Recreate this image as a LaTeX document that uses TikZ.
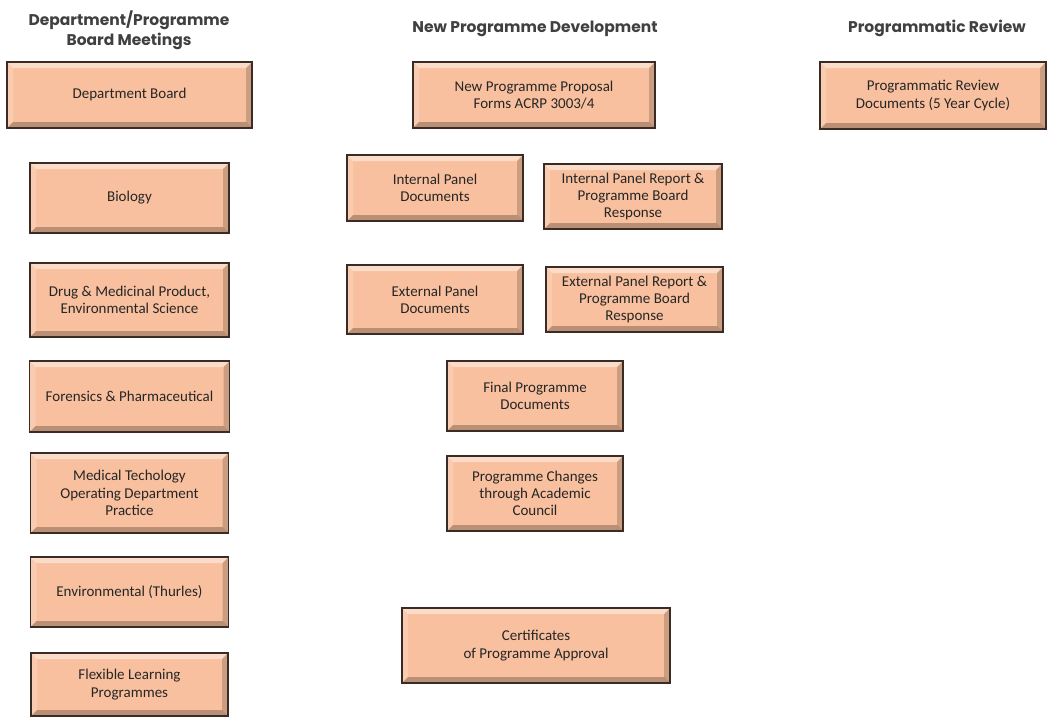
\documentclass[tikz,border=0pt]{standalone}
\usepackage{fontspec}
\setmainfont{Carlito}
\newfontfamily\headfont{Poppins}
\usepackage{tikz}
\usetikzlibrary{positioning}
\definecolor{peach}{RGB}{248,192,158}
\definecolor{boxedge}{RGB}{58,44,36}
\definecolor{headgrey}{RGB}{64,64,64}
\definecolor{inktext}{RGB}{38,38,38}
\tikzstyle{doc} = [rectangle, 
draw=boxedge, line width=1.2pt, fill=peach, 
align=center, text=inktext, 
font=\fontsize{15}{17.3}\selectfont,
path picture={
  \coordinate (bvnw) at (path picture bounding box.north west);
  \coordinate (bvne) at (path picture bounding box.north east);
  \coordinate (bvsw) at (path picture bounding box.south west);
  \coordinate (bvse) at (path picture bounding box.south east);
  \fill[white, opacity=.45] (bvnw) -- (bvne) -- ([shift={(-6pt,-6pt)}]bvne) -- ([shift={(6pt,-6pt)}]bvnw) -- cycle;
  \fill[white, opacity=.2] (bvnw) -- ([shift={(6pt,-6pt)}]bvnw) -- ([shift={(6pt,6pt)}]bvsw) -- (bvsw) -- cycle;
  \fill[black, opacity=.25] (bvsw) -- ([shift={(6pt,6pt)}]bvsw) -- ([shift={(-6pt,6pt)}]bvse) -- (bvse) -- cycle;
  \fill[black, opacity=.18] (bvne) -- (bvse) -- ([shift={(-6pt,6pt)}]bvse) -- ([shift={(-6pt,-6pt)}]bvne) -- cycle;
}]
\tikzstyle{heading} = [align=center, text=headgrey, 
font=\headfont\bfseries\fontsize{15.5}{20}\selectfont]

\begin{document}
\begin{tikzpicture}[x=1pt, y=-1pt]
            \useasboundingbox (0,0) rectangle (1048,717);
            % column headings
            \node [heading] (hdept) at (129,30) 
            {Department/Programme\\Board Meetings};
            \node [heading] (hnew) at (535,29) 
            {New Programme Development};
            \node [heading] (hrev) at (937,28) 
            {Programmatic Review};
            % department / programme boards
            \node [doc, minimum width=245pt, minimum height=66pt] (deptboard) at (129.5,95) 
            {Department Board};
            \node [doc, minimum width=199pt, minimum height=70pt, below of=deptboard, node distance=103pt] (biology) 
            {Biology};
            \node [doc, minimum width=199pt, minimum height=74pt, below of=biology, node distance=102pt] (drug) 
            {Drug \& Medicinal Product,\\ Environmental Science};
            \node [doc, minimum width=200pt, minimum height=71pt, below of=drug, node distance=96.5pt] (forensics) 
            {Forensics \& Pharmaceutical};
            \node [doc, minimum width=198pt, minimum height=80pt, below of=forensics, node distance=96.5pt] (medical) 
            {Medical Techology\\Operating Department\\Practice};
            \node [doc, minimum width=198pt, minimum height=70pt, below of=medical, node distance=99pt] (thurles) 
            {Environmental (Thurles)};
            \node [doc, minimum width=197pt, minimum height=63pt, below of=thurles, node distance=92.5pt] (flexible) 
            {Flexible Learning\\Programmes};
            % new programme development
            \node [doc, minimum width=242pt, minimum height=66pt] (proposal) at (534,95) 
            {New Programme Proposal\\Forms ACRP 3003/4};
            \node [doc, minimum width=176pt, minimum height=66pt] (intdocs) at (435,188) 
            {Internal Panel\\Documents};
            \node [doc, minimum width=178pt, minimum height=65pt, right of=intdocs, node distance=198pt, yshift=-8.5pt] (intreport) 
            {Internal Panel Report \&\\Programme Board\\Response};
            \node [doc, minimum width=176pt, minimum height=69pt, below of=intdocs, node distance=111.5pt] (extdocs) 
            {External Panel\\Documents};
            \node [doc, minimum width=177pt, minimum height=65pt, right of=extdocs, node distance=199.5pt] (extreport) 
            {External Panel Report \&\\Programme Board\\Response};
            \node [doc, minimum width=176pt, minimum height=70pt] (final) at (535,396) 
            {Final Programme\\Documents};
            \node [doc, minimum width=176pt, minimum height=75pt, below of=final, node distance=97.5pt] (changes) 
            {Programme Changes\\through Academic\\Council};
            \node [doc, minimum width=268pt, minimum height=75pt, below of=changes, node distance=152pt, xshift=1pt] (certificates) 
            {Certificates\\of Programme Approval};
            % programmatic review
            \node [doc, minimum width=226pt, minimum height=67pt] (review) at (933,95.5) 
            {Programmatic Review\\Documents (5 Year Cycle)};
\end{tikzpicture}
\end{document}
